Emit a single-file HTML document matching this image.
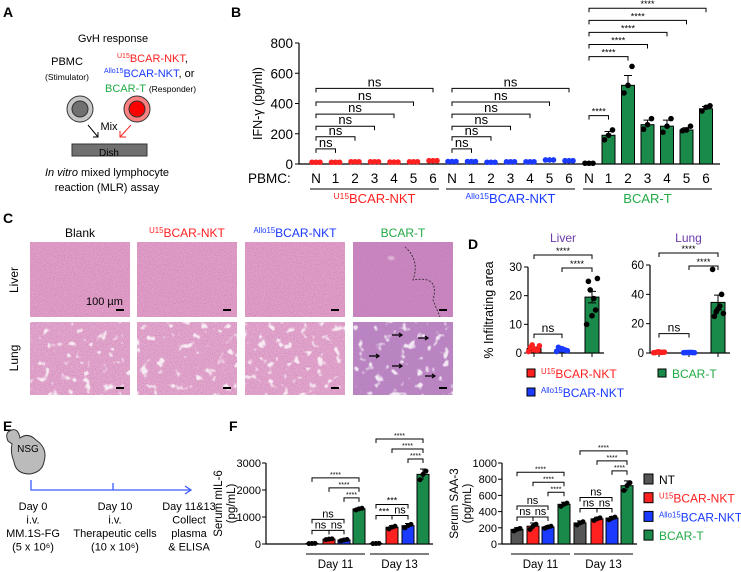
<!DOCTYPE html>
<html><head><meta charset="utf-8"><style>
html,body{margin:0;padding:0;background:#fff;}
svg{display:block;font-family:"Liberation Sans",Arial,sans-serif;}
</style></head><body>
<svg id="fig" width="741" height="572" viewBox="0 0 741 572" xmlns="http://www.w3.org/2000/svg">
<defs>
<filter id="tex" x="0" y="0" width="100%" height="100%">
<feTurbulence type="fractalNoise" baseFrequency="0.9" numOctaves="2" seed="3"/>
<feColorMatrix type="matrix" values="0 0 0 0 0.55  0 0 0 0 0.15  0 0 0 0 0.45  0 0 0 2.2 -0.9"/>
</filter>
<filter id="holes" x="0" y="0" width="100%" height="100%">
<feTurbulence type="fractalNoise" baseFrequency="0.12" numOctaves="2" seed="7"/>
<feColorMatrix type="matrix" values="0 0 0 0 1  0 0 0 0 1  0 0 0 0 1  0 0 0 7 -4.3"/>
</filter>
<filter id="holes2" x="0" y="0" width="100%" height="100%">
<feTurbulence type="fractalNoise" baseFrequency="0.06" numOctaves="1" seed="11"/>
<feColorMatrix type="matrix" values="0 0 0 0 1  0 0 0 0 1  0 0 0 0 1  0 0 0 12 -9.3"/>
</filter>
</defs>
<g id="A">
<text x="3" y="17" font-size="14" font-weight="bold">A</text>
<text x="113" y="42" font-size="11" text-anchor="middle">GvH response</text>
<text x="67" y="65" font-size="11" text-anchor="middle">PBMC</text>
<text x="67" y="80" font-size="8.5" text-anchor="middle">(Stimulator)</text>
<text x="117" y="62" font-size="11" fill="#ff2020"><tspan font-size="7" dy="-4">U15</tspan><tspan dy="4">BCAR-NKT</tspan><tspan fill="#000">,</tspan></text>
<text x="104" y="77" font-size="11" fill="#1a3aff"><tspan font-size="7" dy="-4">Allo15</tspan><tspan dy="4">BCAR-NKT</tspan><tspan fill="#000">, or</tspan></text>
<text x="105" y="92" font-size="11" fill="#22aa44">BCAR-T <tspan fill="#000" font-size="8.5">(Responder)</tspan></text>
<circle cx="80" cy="109" r="13" fill="#c8c8c8" stroke="#333"/>
<circle cx="80" cy="109" r="8" fill="#707070" stroke="#333"/>
<circle cx="137" cy="109" r="13" fill="#ff8080" stroke="#333"/>
<circle cx="137" cy="109" r="8" fill="#ff0000" stroke="#333"/>
<text x="109" y="130" font-size="11" text-anchor="middle">Mix</text>
<path d="M88 125 L98 137 M93 137 L98 137 L98 132" stroke="#000" fill="none"/>
<path d="M131 125 L120 137 M120 131 L120 137 L126 137" stroke="#ff2020" fill="none"/>
<rect x="72" y="144" width="75" height="12" fill="#707070" stroke="#333"/>
<text x="109" y="156" font-size="10" text-anchor="middle">Dish</text>
<text x="107" y="176" font-size="11" text-anchor="middle"><tspan font-style="italic">In vitro</tspan> mixed lymphocyte</text>
<text x="107" y="191" font-size="11" text-anchor="middle">reaction (MLR) assay</text>
</g>
<g id="B"></g>
<g id="C"></g>
<g id="D"></g>
<g id="E"></g>
<g id="F"></g>
</svg>
<script>
// ---- Panel B data ----
const bCats = ['N','1','2','3','4','5','6'];
const bGroups = ['U15BCAR-NKT','Allo15BCAR-NKT','BCAR-T'];
const bRed = [5,5,8,8,6,8,15];
const bBlue = [10,10,5,8,8,20,15];
const bGreen = [5,190,520,260,250,225,365];
const bGreenErr = [0,25,65,30,40,15,15];
const bGreenPts = [[5,5,5],[160,190,225],[470,520,645],[230,260,300],[210,250,300],[220,225,250],[350,375,385]];
const bTicks = [0,200,400,600,800];
const bNsLevels = [100,180,250,330,410,500];
const bStarLevels = [320,710,790,870,950,1030];
// ---- Panel D data ----
const dGroups = ['U15BCAR-NKT','Allo15BCAR-NKT','BCAR-T'];
const dLiver = [1.5,1.2,19.5];
const dLiverErr = [0.5,0.4,2];
const dLiverPts = [[0.5,1,1.5,2,2.5,1,2.8],[0.5,1,1.5,2,0.8,1.2,1.5],[10,15,13,25,26,19,22]];
const dLung = [0.5,0.3,34.5];
const dLungErr = [0.2,0.1,5];
const dLungPts = [[0.2,0.5,0.8,0.3,0.6,0.4,0.7],[0.2,0.3,0.4,0.3,0.2,0.4,0.3],[57,40,30,25,27,32,28]];
const dLiverTicks = [0,10,20,30];
const dLungTicks = [0,20,40,60];
// ---- Panel F data ----
const fDays = ['Day 11','Day 13'];
const fSeries = ['NT','U15BCAR-NKT','Allo15BCAR-NKT','BCAR-T'];
const fIL6 = [[20,180,150,1300],[20,620,680,2580]];
const fIL6Err = [[5,20,30,40],[5,60,80,200]];
const fSAA = [[180,220,210,490],[260,310,320,720]];
const fSAAErr = [[20,40,15,25],[25,20,20,60]];
const fIL6Ticks = [0,1000,2000,3000];
const fSAATicks = [0,200,400,600,800,1000];

const NS='http://www.w3.org/2000/svg';
const RED='#ff2020', BLUE='#1a3aff', GREEN='#1a8a4a', GTXT='#22aa44', GRAY='#666';
function mk(parent, tag, attrs, txt){const e=document.createElementNS(NS,tag);for(const k in attrs)e.setAttribute(k,attrs[k]);if(txt!==undefined)e.textContent=txt;parent.appendChild(e);return e;}
function bracket(g,x1,x2,y,label,fs){
  const p=mk(g,'path',{d:`M${x1} ${y+4} L${x1} ${y} L${x2} ${y} L${x2} ${y+4}`,stroke:'#000','stroke-width':1,fill:'none'});
  
  
  const t=mk(g,'text',{x:(x1+x2)/2,y:label==='ns'?y-2:y-1,'font-size':label==='ns'?fs:fs-2,'text-anchor':'middle'},label);
  
  
}
function groupLabel(g,x,y,name,col,fs,anchor){
  const t=mk(g,'text',{x:x,y:y,'font-size':fs,fill:col,'text-anchor':anchor||'middle'});
  const m=name.match(/^(U15|Allo15)(.*)$/);
  if(m){mk(t,'tspan',{'font-size':fs*0.65,dy:-4},m[1]);mk(t,'tspan',{dy:4},m[2]);}else t.textContent=name;
  return t;
}

// ================= Panel B =================
(function(){
const g=document.getElementById('B');
const yB=v=>164-v*121/800;
const gx0=[316,452,589], step=19.5;
const xB=(gi,ci)=>gx0[gi]+ci*step;
let t=mk(g,'text',{x:231,y:17,'font-size':14,'font-weight':'bold'},'B');


let ax=mk(g,'path',{d:`M299 ${yB(800)} L299 ${yB(0)} L720 ${yB(0)}`,stroke:'#000','stroke-width':1.2,fill:'none'});


bTicks.forEach(v=>{
  const l=mk(g,'line',{x1:295,x2:299,y1:yB(v),y2:yB(v),stroke:'#000'});
  
  
  const tt=mk(g,'text',{x:293,y:yB(v)+5,'font-size':13.5,'text-anchor':'end'},v);
  
  
});
const yt=mk(g,'text',{x:0,y:0,'font-size':12.5,'text-anchor':'middle',transform:`translate(262,${yB(400)}) rotate(-90)`},'IFN-γ (pg/ml)');


const pb=mk(g,'text',{x:248,y:183,'font-size':13.5},'PBMC:');


const series=[bRed,bBlue,bGreen], cols=[RED,BLUE,GREEN];
series.forEach((s,gi)=>{
  bCats.forEach((c,ci)=>{
    const x=xB(gi,ci);
    const lab=mk(g,'text',{x:x,y:183,'font-size':13.5,'text-anchor':'middle'},c);
    
    
    if(gi===2 && ci>0){
      const r=mk(g,'rect',{x:x-6.5,y:yB(s[ci]),width:13,height:yB(0)-yB(s[ci]),fill:GREEN,stroke:'#000','stroke-width':1});
      
      
      const e=mk(g,'path',{d:`M${x} ${yB(s[ci])} L${x} ${yB(s[ci]+bGreenErr[ci])} M${x-4} ${yB(s[ci]+bGreenErr[ci])} L${x+4} ${yB(s[ci]+bGreenErr[ci])}`,stroke:'#000',fill:'none'});
      
      
    }
    const pts=gi===2?bGreenPts[ci]:[s[ci],s[ci],s[ci]];
    pts.forEach((p,pi)=>{
      const d=mk(g,'circle',{cx:x+(pi-1)*4,cy:yB(p)-(gi<2?1:0),r:2.8,fill:gi===2?'#000':cols[gi]});
      
      
    });
  });
  const x1=xB(gi,0)-6, x2=xB(gi,6)+6;
  const ul=mk(g,'line',{x1:x1,x2:x2,y1:189,y2:189,stroke:'#555','stroke-width':1.5});
  
  
  const gl=groupLabel(g,(x1+x2)/2,203,bGroups[gi],[RED,BLUE,GTXT][gi],13);
  
  
  for(let k=1;k<=6;k++){
    if(gi<2) bracket(g,xB(gi,0),xB(gi,k),yB(bNsLevels[k-1]),'ns',13);
    else bracket(g,xB(gi,0),xB(gi,k),yB(bStarLevels[k-1]),'****',11);
  }
});
})();

// ================= Panel C =================
(function(){
const g=document.getElementById('C');
let t=mk(g,'text',{x:3,y:223,'font-size':14,'font-weight':'bold'},'C');


const cols=['Blank','U15BCAR-NKT','Allo15BCAR-NKT','BCAR-T'], ccol=['#000',RED,BLUE,GTXT];
const xs=[30,137,245,353], w=100;
cols.forEach((c,i)=>{
  const h=groupLabel(g,xs[i]+w/2,237,c,ccol[i],12);
  
  
  [[242,75,'liver'],[322,73,'lung']].forEach(([y,hh,org])=>{
    const base=org==='liver'?(i===3?'#c888c0':'#e0a0c6'):(i===3?'#b888c4':'#e2a8cc');
    const r=mk(g,'rect',{x:xs[i],y:y,width:w,height:hh,fill:base});
    
    
    const tx=mk(g,'rect',{x:xs[i],y:y,width:w,height:hh,filter:'url(#tex)',opacity:0.6});
    
    
    const ho=mk(g,'rect',{x:xs[i],y:y,width:w,height:hh,filter:org==='lung'?'url(#holes)':'url(#holes2)',opacity:org==='lung'?0.8:0.85});
    
    
    const sb=mk(g,'rect',{x:xs[i]+w-14,y:y+hh-8,width:8,height:2,fill:'#000'});
    
    
  });
});
const lv=mk(g,'text',{x:0,y:0,'font-size':12,'text-anchor':'middle',transform:'translate(18,280) rotate(-90)'},'Liver');


const lg=mk(g,'text',{x:0,y:0,'font-size':12,'text-anchor':'middle',transform:'translate(18,358) rotate(-90)'},'Lung');


const sc=mk(g,'text',{x:86,y:305,'font-size':11},'100 µm');


const dl=mk(g,'path',{d:'M405 247 Q420 260 413 280 Q440 275 433 300 L440 317',stroke:'#222','stroke-dasharray':'2 1.5',fill:'none','stroke-width':0.8});


[[392,335],[418,338],[369,356],[392,366],[425,376]].forEach(([x,y])=>{
  const a=mk(g,'path',{d:`M${x} ${y} L${x+10} ${y} M${x+7} ${y-2} L${x+10} ${y} L${x+7} ${y+2}`,stroke:'#000','stroke-width':1.2,fill:'none'});
  
  
});
})();

// ================= Panel D =================
(function(){
const g=document.getElementById('D');
let t=mk(g,'text',{x:468,y:249,'font-size':14,'font-weight':'bold'},'D');


const cols=[RED,BLUE,GREEN];
function sub(axX,xs,vals,errs,pts,ticks,maxv,title,top){
  const y=v=>353-v*(353-top)/maxv;
  const tt=mk(g,'text',{x:(xs[0]+xs[2])/2,y:242,'font-size':12,fill:'#6a3aa8','text-anchor':'middle'},title);
  
  
  const ax=mk(g,'path',{d:`M${axX} ${y(maxv)} L${axX} 353 L${xs[2]+12} 353`,stroke:'#000','stroke-width':1.2,fill:'none'});
  
  
  ticks.forEach(v=>{
    const l=mk(g,'line',{x1:axX-4,x2:axX,y1:y(v),y2:y(v),stroke:'#000'});
    
    
    const lb=mk(g,'text',{x:axX-6,y:y(v)+4,'font-size':11.5,'text-anchor':'end'},v);
    
    
  });
  xs.forEach((x,i)=>{
    const xt=mk(g,'line',{x1:x,x2:x,y1:353,y2:357,stroke:'#000'});
    
    
    const r=mk(g,'rect',{x:x-7,y:y(vals[i]),width:14,height:353-y(vals[i]),fill:cols[i],stroke:'#000'});
    
    
    const e=mk(g,'path',{d:`M${x} ${y(vals[i]-errs[i])} L${x} ${y(vals[i]+errs[i])} M${x-4} ${y(vals[i]+errs[i])} L${x+4} ${y(vals[i]+errs[i])} M${x-4} ${y(vals[i]-errs[i])} L${x+4} ${y(vals[i]-errs[i])}`,stroke:'#000',fill:'none'});
    
    
    pts[i].forEach((p,pi)=>{
      const c=mk(g,'circle',{cx:x+((pi*5)%7-3)*1.8,cy:y(p),r:2.8,fill:i===2?'#000':cols[i]});
      
      
    });
  });
  bracket(g,xs[0],xs[1],y(maxv*0.22),'ns',12);
  bracket(g,xs[0],xs[2],top-12,'****',11);
  bracket(g,xs[1],xs[2],top+1,'****',11);
}
sub(528,[534,562,592],dLiver,dLiverErr,dLiverPts,dLiverTicks,30,'Liver',267);
sub(650,[659,689,718],dLung,dLungErr,dLungPts,dLungTicks,60,'Lung',265);
const yt=mk(g,'text',{x:0,y:0,'font-size':12.5,'text-anchor':'middle',transform:'translate(493,310) rotate(-90)'},'% Infiltrating area');


[[527,373,RED,'U15BCAR-NKT'],[658,373,GREEN,'BCAR-T'],[527,392,BLUE,'Allo15BCAR-NKT']].forEach(([x,y,c,n])=>{
  const s=mk(g,'rect',{x:x,y:y-4,width:8,height:8,fill:c,stroke:'#000'});
  
  
  const l=groupLabel(g,x+14,y+5,n,c===GREEN?GTXT:c,12,'start');
  
  
});
})();

// ================= Panel E =================
(function(){
const g=document.getElementById('E');
let t=mk(g,'text',{x:3,y:431,'font-size':14,'font-weight':'bold'},'E');


const m=mk(g,'path',{d:'M8 441 Q4 432 12 430 Q18 428 20 438 Q28 432 36 440 Q48 448 44 462 Q42 472 30 474 Q16 474 14 462 Q10 452 12 444 Z',fill:'#bbb',stroke:'#333'});


const mt=mk(g,'text',{x:28,y:452,'font-size':10,'text-anchor':'middle'},'NSG');


const tl=mk(g,'path',{d:'M31 480 L31 490 L191 490 M185 486 L191 490 L185 494 M113 483 L113 490',stroke:'#3a5aff','stroke-width':1.3,fill:'none'});


const cols=[[33,['Day 0','i.v.','MM.1S-FG','(5 x 10⁶)']],[115,['Day 10','i.v.','Therapeutic cells','(10 x 10⁶)']],[189,['Day 11&13','Collect','plasma','& ELISA']]];
cols.forEach(([x,lines])=>lines.forEach((s,i)=>{
  const tx=mk(g,'text',{x:x,y:510+i*13.5,'font-size':11,'text-anchor':'middle'},s);
  
  
}));
})();

// ================= Panel F =================
(function(){
const g=document.getElementById('F');
let t=mk(g,'text',{x:229,y:431,'font-size':14,'font-weight':'bold'},'F');


const cols=['#555',RED,BLUE,GREEN];
function sub(axX,xs,vals,errs,ticks,maxv,title,sig,tOff){
  const y=v=>544-v*81/maxv;
  const ax=mk(g,'path',{d:`M${axX} ${y(maxv)} L${axX} 544 L${xs[1][3]+10} 544`,stroke:'#000','stroke-width':1.2,fill:'none'});
  
  
  ticks.forEach(v=>{
    const l=mk(g,'line',{x1:axX-4,x2:axX,y1:y(v),y2:y(v),stroke:'#000'});
    
    
    const lb=mk(g,'text',{x:axX-5,y:y(v)+4,'font-size':11,'text-anchor':'end'},v);
    
    
  });
  const yt=mk(g,'text',{x:0,y:0,'font-size':11.5,'text-anchor':'middle',transform:`translate(${axX-tOff},${y(maxv/2)}) rotate(-90)`});
  mk(yt,'tspan',{x:0,dy:0},title);
  mk(yt,'tspan',{x:0,dy:13},'(pg/mL)');
  
  
  fDays.forEach((d,di)=>{
    xs[di].forEach((x,si)=>{
      const v=vals[di][si];
      const r=mk(g,'rect',{x:x-6,y:y(v),width:12,height:544-y(v),fill:cols[si],stroke:'#000'});
      
      
      const e=errs[di][si];
      const eb=mk(g,'path',{d:`M${x} ${y(v-e)} L${x} ${y(v+e)} M${x-3} ${y(v+e)} L${x+3} ${y(v+e)}`,stroke:'#000',fill:'none'});
      
      
      [-e,0,e*0.6].forEach((o,pi)=>{
        const c=mk(g,'circle',{cx:x+(pi-1)*3,cy:y(v+o),r:2.5,fill:'#000'});
        
        
      });
    });
    const x1=xs[di][0]-6,x2=xs[di][3]+6;
    const ul=mk(g,'line',{x1:x1,x2:x2,y1:554,y2:554,stroke:'#555','stroke-width':1.5});
    
    
    const dl=mk(g,'text',{x:(x1+x2)/2,y:568,'font-size':11.5,'text-anchor':'middle'},d);
    
    
    const top=y(vals[di][3]+errs[di][3]);
    bracket(g,xs[di][2],xs[di][3],top-10,'****',9);
    bracket(g,xs[di][1],xs[di][3],top-20,'****',9);
    bracket(g,xs[di][0],xs[di][3],top-30,'****',9);
    const s=sig[di];
    const ly=y(Math.max(vals[di][0],vals[di][1],vals[di][2])+errs[di][2])-8;
    bracket(g,xs[di][0],xs[di][1],ly,s[0],11);
    bracket(g,xs[di][1],xs[di][2],ly,s[1],11);
    bracket(g,xs[di][0],xs[di][2],ly-11,s[2],11);
  });
}
sub(266,[[312,329,344,359],[376,392,408,423]],fIL6,fIL6Err,fIL6Ticks,3000,'Serum mIL-6',[['ns','ns','ns'],['***','ns','***']],44);
sub(502,[[517,533,548,564],[580,597,612,627]],fSAA,fSAAErr,fSAATicks,1000,'Serum SAA-3',[['ns','ns','ns'],['ns','ns','ns']],44);
fSeries.forEach((n,i)=>{
  const y=479+i*18.7;
  const s=mk(g,'rect',{x:644,y:y-5,width:9,height:10,fill:cols[i],stroke:'#000'});
  
  
  const l=groupLabel(g,659,y+5,n,[ '#000',RED,BLUE,GTXT][i],12,'start');
  
  
});
})();
</script>
</body></html>
